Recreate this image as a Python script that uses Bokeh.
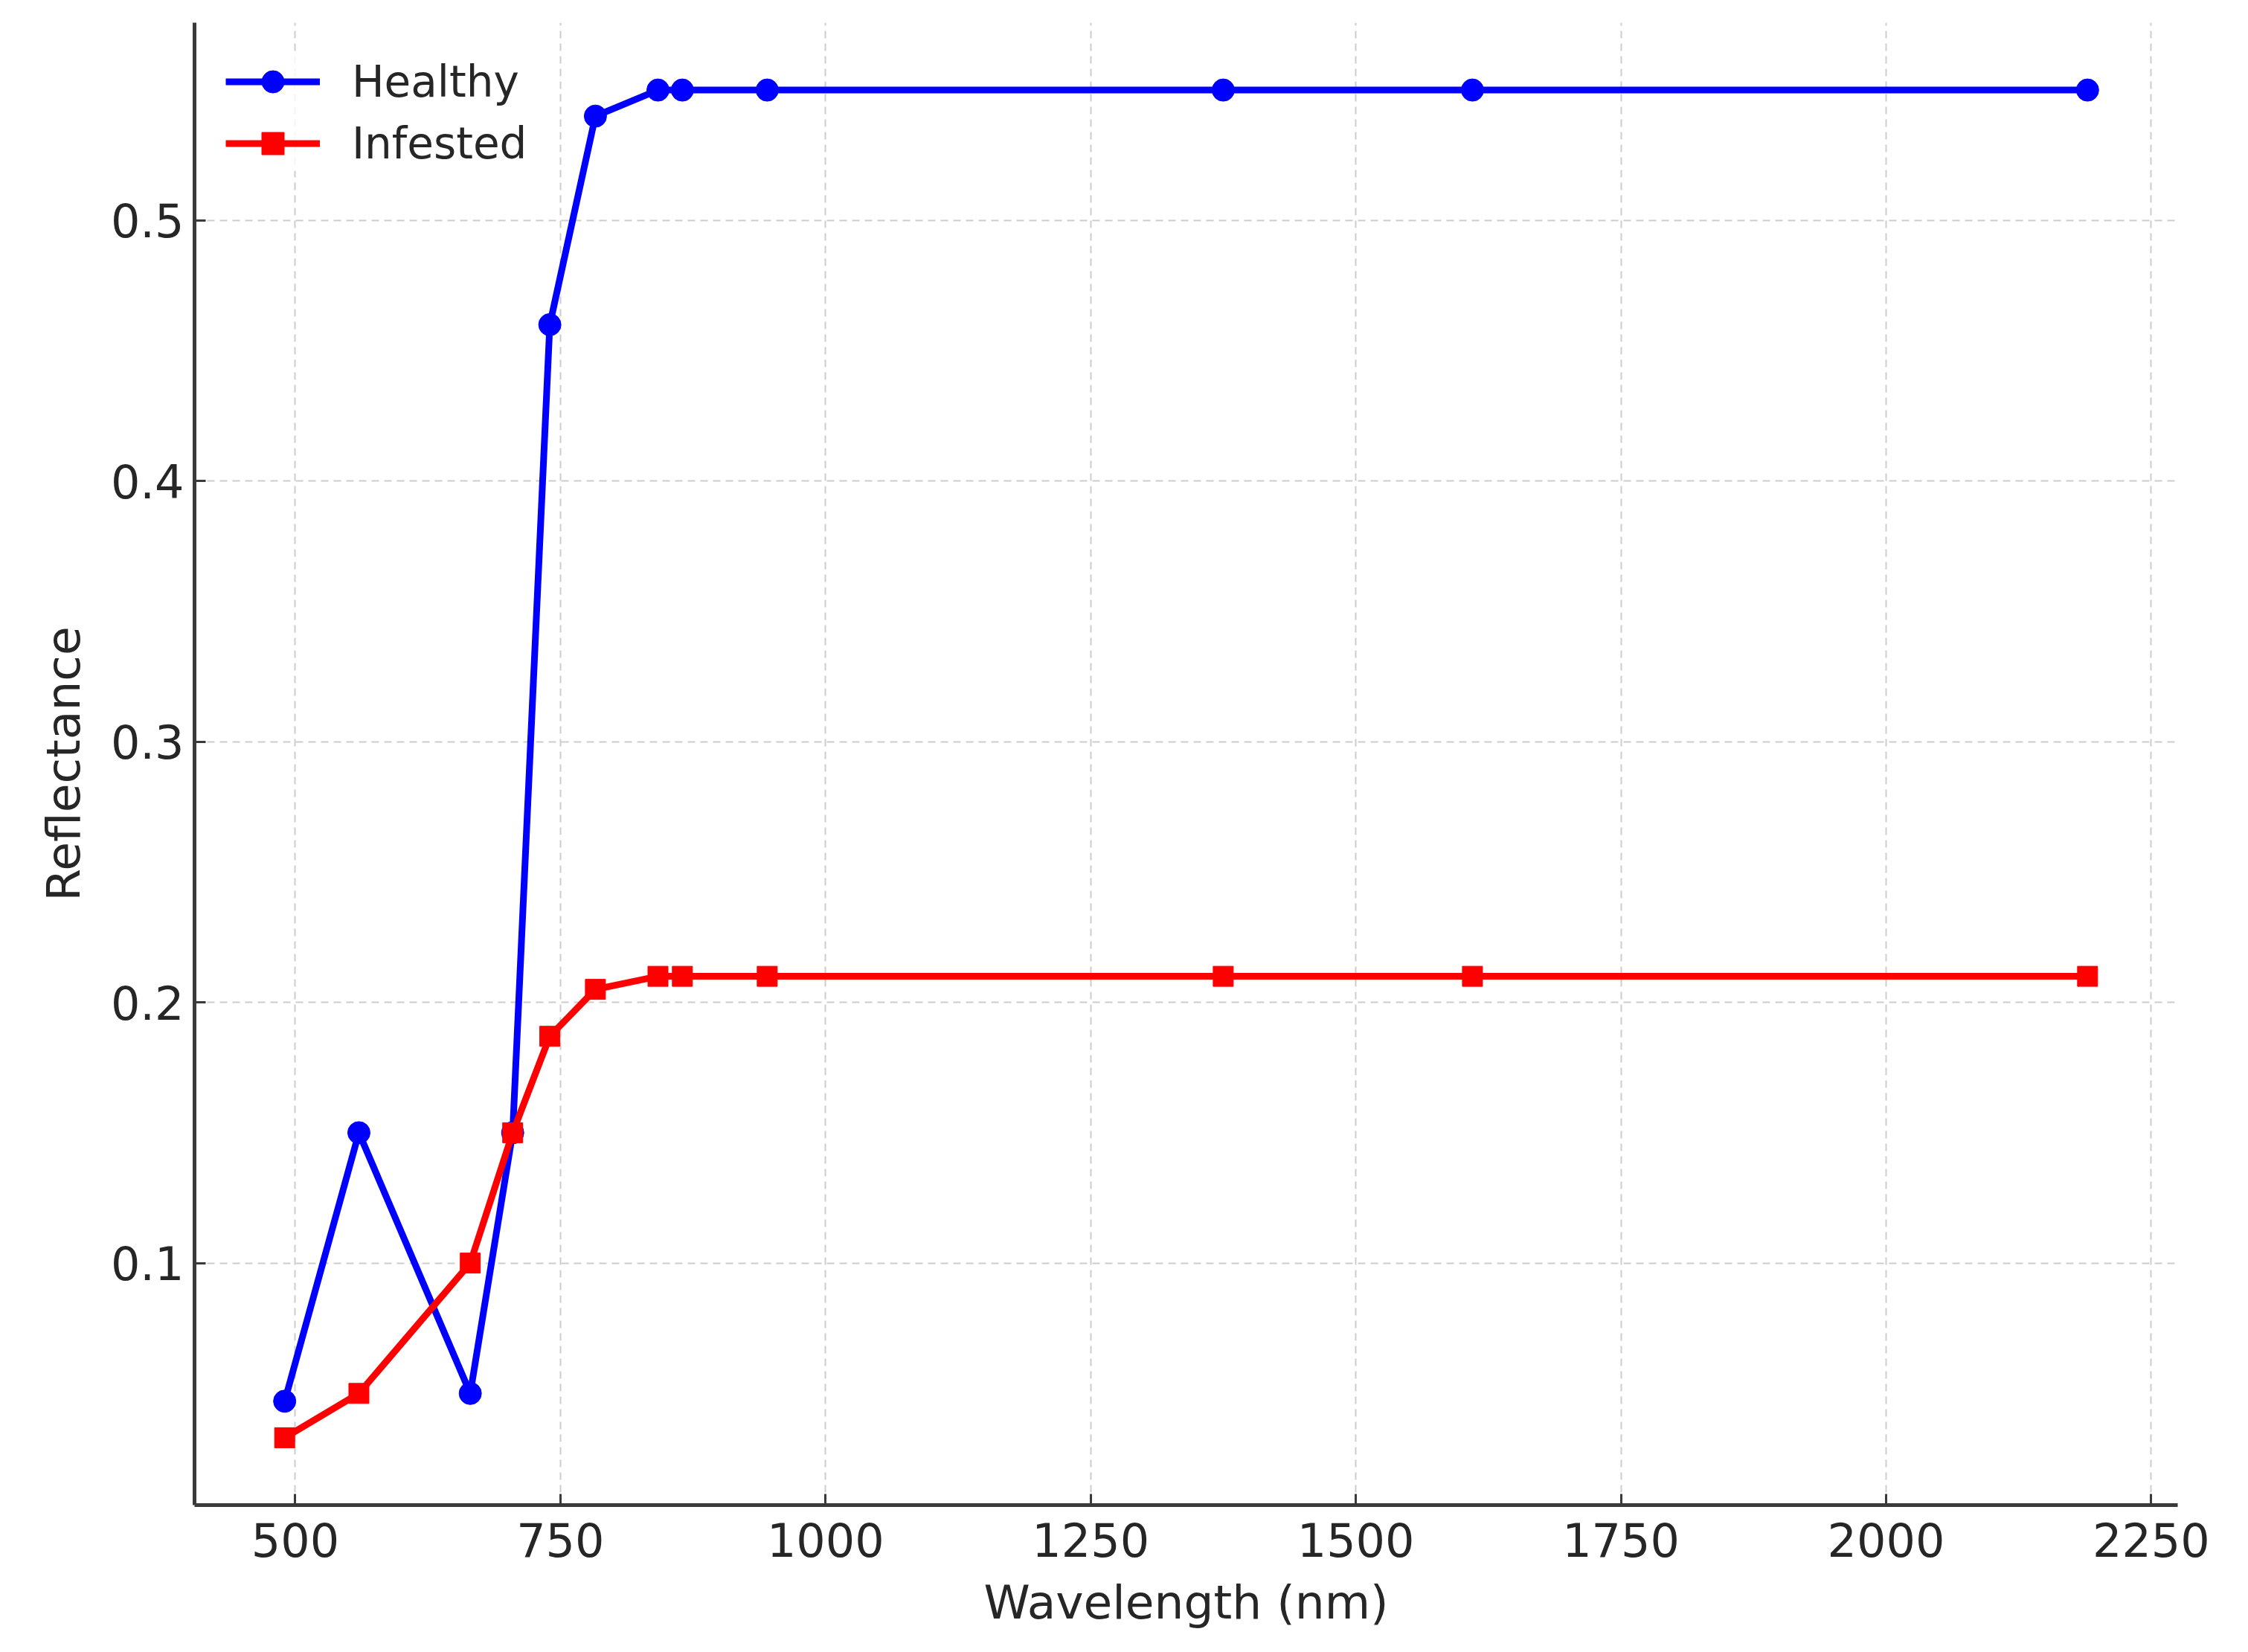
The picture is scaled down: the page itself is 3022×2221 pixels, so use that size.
from bokeh.plotting import figure
from bokeh.models import FixedTicker, Range1d
from bokeh.embed import file_html
from bokeh.resources import INLINE

# ---- data ----
wavelength = [490, 560, 665, 705, 740, 783, 842, 865, 945, 1375, 1610, 2190]
healthy = [0.047, 0.15, 0.05, 0.15, 0.46, 0.54, 0.55, 0.55, 0.55, 0.55, 0.55, 0.55]
infested = [0.033, 0.05, 0.10, 0.15, 0.187, 0.205, 0.21, 0.21, 0.21, 0.21, 0.21, 0.21]
x_ticks = [500, 750, 1000, 1250, 1500, 1750, 2000, 2250]
y_ticks = [0.1, 0.2, 0.3, 0.4, 0.5]
series_names = ["Healthy", "Infested"]

# matplotlib-like 5% margins
xmin, xmax = min(wavelength), max(wavelength)
ymin, ymax = min(healthy + infested), max(healthy + infested)
xpad = 0.05 * (xmax - xmin)
ypad = 0.05 * (ymax - ymin)

FONT = "DejaVu Sans"
TXT = "#262626"

p = figure(width=3006, height=2200, output_backend="svg", toolbar_location=None,
           x_range=Range1d(xmin - xpad, xmax + xpad),
           y_range=Range1d(ymin - ypad, ymax + ypad),
           min_border_left=261, min_border_right=79,
           min_border_top=30, min_border_bottom=177)
p.outline_line_color = None
p.background_fill_color = "white"
p.border_fill_color = "white"

p.line(wavelength, healthy, line_color="#0000ff", line_width=9, legend_label=series_names[0])
p.scatter(wavelength, healthy, marker="circle", size=30, fill_color="#0000ff",
          line_color="#0000ff", legend_label=series_names[0])
p.line(wavelength, infested, line_color="#ff0000", line_width=9, legend_label=series_names[1])
p.scatter(wavelength, infested, marker="square", size=27, fill_color="#ff0000",
          line_color="#ff0000", legend_label=series_names[1])

# axes
p.xaxis.ticker = FixedTicker(ticks=x_ticks)
p.yaxis.ticker = FixedTicker(ticks=y_ticks)
p.xaxis.axis_label = "Wavelength (nm)"
p.yaxis.axis_label = "Reflectance"
for ax in (p.xaxis[0], p.yaxis[0]):
    ax.axis_line_color = "#3a3a3a"
    ax.axis_line_width = 5
    ax.major_tick_line_color = "#3a3a3a"
    ax.major_tick_line_width = 3
    ax.major_tick_in = 15
    ax.major_tick_out = 0
    ax.minor_tick_line_color = None
    ax.major_label_text_font = FONT
    ax.major_label_text_font_size = "62px"
    ax.major_label_text_color = TXT
    ax.axis_label_text_font = FONT
    ax.axis_label_text_font_size = "63px"
    ax.axis_label_text_font_style = "normal"
    ax.axis_label_text_color = TXT
p.yaxis.major_label_standoff = 14
p.xaxis.major_label_standoff = 23
p.xaxis.axis_label_standoff = 22
p.yaxis.axis_label_standoff = 24

# grid
for g in (p.xgrid[0], p.ygrid[0]):
    g.grid_line_color = "#c8c8c8"
    g.grid_line_width = 2
    g.grid_line_dash = "10 7"
    g.grid_line_alpha = 0.9

# legend
lg = p.legend[0]
lg.location = "top_left"
lg.margin = 42
lg.padding = 22
lg.spacing = 8
lg.glyph_width = 127
lg.glyph_height = 75
lg.label_height = 75
lg.label_standoff = 43
lg.label_text_font = FONT
lg.label_text_font_size = "58px"
lg.label_text_color = TXT
lg.background_fill_color = "white"
lg.background_fill_alpha = 0.8
lg.border_line_color = None

open("out.html", "w").write(file_html(p, INLINE))
